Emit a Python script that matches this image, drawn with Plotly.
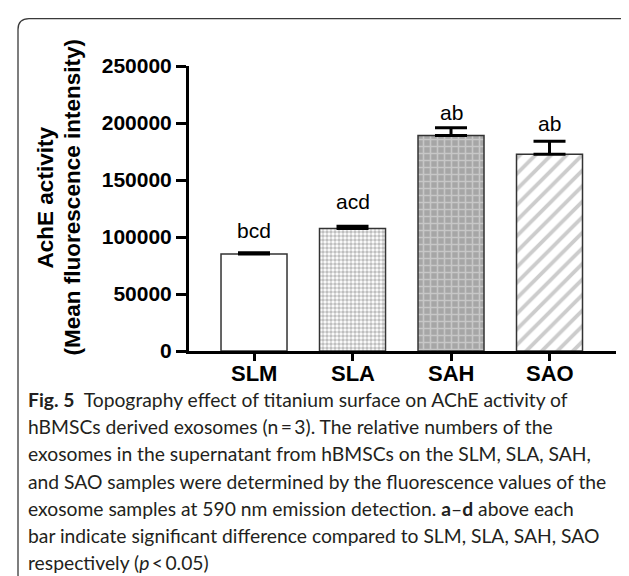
import plotly.graph_objects as go

# ---------------- data ----------------
categories = ["SLM", "SLA", "SAH", "SAO"]
means = [85000, 107500, 189000, 172500]
errors = [1200, 2000, 6900, 11400]
sig_labels = ["bcd", "acd", "ab", "ab"]
y_ticks = [0, 50000, 100000, 150000, 200000, 250000]

caption_lines = [
    "<b>Fig. 5</b>  Topography effect of titanium surface on AChE activity of",
    "hBMSCs derived exosomes (n\u2009=\u20093). The relative numbers of the",
    "exosomes in the supernatant from hBMSCs on the SLM, SLA, SAH,",
    "and SAO samples were determined by the fluorescence values of the",
    "exosome samples at 590 nm emission detection. <b>a</b>\u2013<b>d</b> above each",
    "bar indicate significant difference compared to SLM, SLA, SAH, SAO",
    "respectively (<i>p</i>\u2009<\u20090.05)",
]

# ---------------- layout geometry (pixels) ----------------
W, H = 629, 576
L, R, T, B = 181, 608, 57.5, 342.7

def px(x):
    return (x - L) / (R - L)

def py(y):
    return (B - y) / (B - T)

patterns = [
    dict(shape=""),
    dict(shape=".", fgcolor="#808080", bgcolor="white", size=4, solidity=0.6),
    dict(shape="+", fgcolor="#e8e8e8", bgcolor="#a6a6a6", size=7, solidity=0.4),
    dict(shape="/", fgcolor="#9a9a9a", bgcolor="white", size=11, solidity=0.35),
]

fig = go.Figure()
for i, cat in enumerate(categories):
    fig.add_trace(go.Bar(
        x=[cat], y=[means[i]],
        width=0.67,
        marker=dict(color="white", pattern=patterns[i],
                    line=dict(color="#333333", width=1.5)),
        error_y=dict(type="data", symmetric=False, array=[errors[i]],
                     arrayminus=[0], color="black", thickness=3, width=16),
        showlegend=False,
    ))

shifts = [22, 25, 15, 18]
ann = []
for i, cat in enumerate(categories):
    ann.append(dict(x=cat, y=means[i] + errors[i], xref="x", yref="y",
                    text=sig_labels[i], showarrow=False, yshift=shifts[i],
                    yanchor="middle", borderpad=0,
                    font=dict(family="Liberation Sans, Arial", size=21, color="black")))
    # category labels
    ann.append(dict(x=cat, y=py(365), xref="x", yref="paper", text=f"<b>{cat}</b>",
                    showarrow=False, yanchor="middle", borderpad=0,
                    font=dict(family="Liberation Sans, Arial", size=22, color="black")))

# y-axis title as two rotated lines
ann.append(dict(x=px(37), y=py(189), xref="paper", yref="paper", text="<b>AchE activity</b>",
                showarrow=False, textangle=-90, xanchor="center", yanchor="middle",
                borderpad=0,
                font=dict(family="Liberation Sans, Arial", size=22.5, color="black")))
ann.append(dict(x=px(64), y=py(189), xref="paper", yref="paper",
                text="<b>(Mean fluorescence intensity)</b>",
                showarrow=False, textangle=-90, xanchor="center", yanchor="middle",
                borderpad=0,
                font=dict(family="Liberation Sans, Arial", size=22.5, color="black")))

# caption
cap_y0, cap_dy = 391, 27.3
for k, line in enumerate(caption_lines):
    ann.append(dict(x=px(19), y=py(cap_y0 + k * cap_dy), xref="paper", yref="paper",
                    text=line, showarrow=False, xanchor="left", yanchor="middle",
                    borderpad=0,
                    font=dict(family="Lato, Open Sans", size=19.3, color="#231f20")))

# rounded border
x0, y0, x1, y1, r = 10, 10, 645, 578, 11
path = (f"M {px(x0)},{py(y0 + r)} Q {px(x0)},{py(y0)} {px(x0 + r)},{py(y0)} "
        f"L {px(x1)},{py(y0)} L {px(x1)},{py(y1)} L {px(x0 + r)},{py(y1)} "
        f"Q {px(x0)},{py(y1)} {px(x0)},{py(y1 - r)} Z")

fig.update_layout(
    width=W, height=H,
    margin=dict(l=L, r=W - R, t=T, b=H - B, pad=0),
    paper_bgcolor="white", plot_bgcolor="white",
    annotations=ann,
    shapes=[dict(type="path", path=path, xref="paper", yref="paper",
                 line=dict(color="#3a3a3a", width=1.3), layer="below")],
    xaxis=dict(range=[-0.66, 3.675], showline=True, linecolor="black", linewidth=3,
               ticks="outside", ticklen=7, tickwidth=2.5, tickcolor="black",
               showticklabels=False,
               showgrid=False, zeroline=False, fixedrange=True),
    yaxis=dict(range=[0, 250000], tickvals=y_ticks,
               ticktext=[str(v) for v in y_ticks],
               showline=True, linecolor="black", linewidth=3,
               ticks="outside", ticklen=10, tickwidth=2.5, tickcolor="black",
               tickfont=dict(family="Liberation Sans, Arial", size=21,
                             color="black", weight="bold"),
               showgrid=False, zeroline=False, fixedrange=True),
)

fig.write_html("out.html")
